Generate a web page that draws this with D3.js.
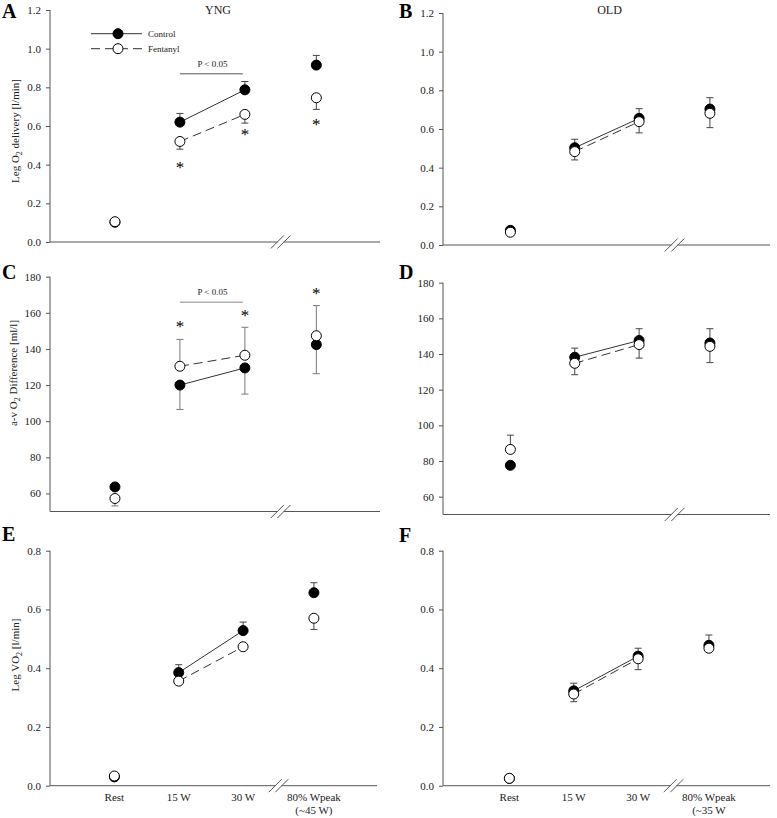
<!DOCTYPE html>
<html><head><meta charset="utf-8">
<script src="https://cdn.jsdelivr.net/npm/d3@7"></script>
<style>
html,body{margin:0;padding:0;background:#fff;}
text{font-family:"Liberation Serif","Times New Roman",serif;}
</style></head>
<body>
<svg id="chart" width="777" height="818"></svg>
<script>
// ---------- DATA ----------
const categories = ["Rest", "15 W", "30 W", "80% Wpeak"];
const xSubLabelsYNG = ["", "", "", "(~45 W)"];
const xSubLabelsOLD = ["", "", "", "(~35 W"];
const seriesNames = ["Control", "Fentanyl"];

// A: YNG leg O2 delivery [l/min]
const A_control = [0.102, 0.62, 0.787, 0.915];
const A_controlErr = [null, 0.665, 0.83, 0.965];
const A_fentanyl = [0.105, 0.52, 0.66, 0.746];
const A_fentanylErr = [null, 0.48, 0.615, 0.686];
// B: OLD leg O2 delivery
const B_control = [0.076, 0.503, 0.655, 0.703];
const B_controlErr = [null, 0.547, 0.705, 0.762];
const B_fentanyl = [0.066, 0.483, 0.638, 0.681];
const B_fentanylErr = [null, 0.44, 0.58, 0.607];
// C: YNG a-v O2 difference [ml/l]
const C_control = [63.6, 120, 129.5, 142.4];
const C_controlErr = [null, 106.5, 115, 126.3];
const C_fentanyl = [57.2, 130.4, 136.5, 147.3];
const C_fentanylErr = [53.1, 145.3, 152, 164];
// D: OLD a-v O2 difference
const D_control = [77.6, 138.2, 147.6, 146.2];
const D_controlErr = [null, 143.3, 154.2, 154.2];
const D_fentanyl = [86.5, 134.8, 145.3, 144.3];
const D_fentanylErr = [94.5, 128.4, 137.7, 135.2];
// E: YNG leg VO2 [l/min]
const E_control = [0.03, 0.385, 0.528, 0.657];
const E_controlErr = [null, 0.412, 0.557, 0.691];
const E_fentanyl = [0.033, 0.356, 0.473, 0.570];
const E_fentanylErr = [null, null, null, 0.532];
// F: OLD leg VO2
const F_control = [0.025, 0.323, 0.441, 0.478];
const F_controlErr = [null, 0.349, 0.468, 0.513];
const F_fentanyl = [0.025, 0.312, 0.432, 0.468];
const F_fentanylErr = [null, 0.286, 0.395, null];

// significance marks
const A_asterisks = [[1, 0.40], [2, 0.57], [3, 0.62]];   // [category index, value]
const C_asterisks = [[1, 153.7], [2, 159.8], [3, 172]];
const A_bracket = [1, 2, 0.87];   // from cat, to cat, value
const C_bracket = [1, 2, 165.9];

const ticksO2 = [0, 0.2, 0.4, 0.6, 0.8, 1.0, 1.2];
const ticksAV = [60, 80, 100, 120, 140, 160, 180];
const ticksVO2 = [0, 0.2, 0.4, 0.6, 0.8];

// ---------- LAYOUT ----------
const svg = d3.select("#chart");
const catPos = [1, 2, 3, 4.1];  // category positions on a continuous axis
const breakPos = 3.55;
const axisColor = "#555";

const panels = [
  {id:"A", left:50, right:380, top:10, bottom:242, xoff:0, dom:[0,1.2], ticks:ticksO2, fmt:".1f",
   ctrl:A_control, ctrlErr:A_controlErr, fent:A_fentanyl, fentErr:A_fentanylErr,
   title:"YNG", ylab:["Leg O","2"," delivery [l/min]"], ast:A_asterisks, br:A_bracket, legend:true},
  {id:"B", left:443, right:770, top:13, bottom:245, xoff:3, dom:[0,1.2], ticks:ticksO2, fmt:".1f",
   ctrl:B_control, ctrlErr:B_controlErr, fent:B_fentanyl, fentErr:B_fentanylErr, title:"OLD"},
  {id:"C", left:50, right:380, top:276.7, bottom:511.5, xoff:0, dom:[50,180], ticks:ticksAV, fmt:"d",
   ctrl:C_control, ctrlErr:C_controlErr, fent:C_fentanyl, fentErr:C_fentanylErr,
   ylab:["a-v O","2"," Difference [ml/l]"], ast:C_asterisks, br:C_bracket, brColor:"#888", errColor:"#777"},
  {id:"D", left:443, right:770, top:282.7, bottom:514.5, xoff:3, dom:[50,180], ticks:ticksAV, fmt:"d",
   ctrl:D_control, ctrlErr:D_controlErr, fent:D_fentanyl, fentErr:D_fentanylErr},
  {id:"E", left:50, right:377, top:550.7, bottom:785.7, xoff:0, dom:[0,0.8], ticks:ticksVO2, fmt:".1f",
   ctrl:E_control, ctrlErr:E_controlErr, fent:E_fentanyl, fentErr:E_fentanylErr,
   ylab:["Leg VO","2"," [l/min]"], xlabels:true, sub:xSubLabelsYNG},
  {id:"F", left:443, right:770, top:550.7, bottom:785.7, xoff:2, dom:[0,0.8], ticks:ticksVO2, fmt:".1f",
   ctrl:F_control, ctrlErr:F_controlErr, fent:F_fentanyl, fentErr:F_fentanylErr, xlabels:true, sub:xSubLabelsOLD}
];

const letterPos = {A:[2,18], B:[399,18], C:[2,279], D:[399,279], E:[2,541], F:[399,542]};
const ylabX = {A:15, C:13, E:15};
const ylabY = {A:131, C:373, E:655};

panels.forEach(p => {
  const g = svg.append("g");
  const x = d3.scaleLinear().domain([0, 5.08]).range([p.left + p.xoff, p.right + p.xoff]);
  const y = d3.scaleLinear().domain(p.dom).range([p.bottom, p.top]);
  const xc = i => x(catPos[i]);

  // y axis
  const yAxis = d3.axisLeft(y).tickValues(p.ticks).tickFormat(d3.format(p.fmt)).tickSizeOuter(0).tickSize(4).tickPadding(5);
  const ya = g.append("g").attr("transform", `translate(${p.left},0)`).call(yAxis);
  ya.attr("font-family", null);
  ya.select(".domain").attr("stroke", axisColor).attr("d", `M0,${p.top}V${p.bottom}`);
  ya.selectAll(".tick line").attr("stroke", axisColor);
  ya.selectAll(".tick text").attr("font-size", 11).attr("fill", "#222");

  // x axis with break
  const bx = x(breakPos);
  g.append("line").attr("x1", p.left).attr("x2", bx - 3).attr("y1", p.bottom).attr("y2", p.bottom).attr("stroke", axisColor).attr("stroke-width", 1);
  g.append("line").attr("x1", bx + 3).attr("x2", p.right).attr("y1", p.bottom).attr("y2", p.bottom).attr("stroke", axisColor).attr("stroke-width", 1);
  [-3.3, 3.3].forEach(o => {
    g.append("line").attr("x1", bx + o - 6.5).attr("y1", p.bottom + 6.5).attr("x2", bx + o + 6.5).attr("y2", p.bottom - 6.5)
      .attr("stroke", axisColor).attr("stroke-width", 1);
  });

  // x labels
  if (p.xlabels) {
    categories.forEach((c, i) => {
      g.append("text").attr("x", xc(i)).attr("y", p.bottom + 15).attr("text-anchor", "middle")
        .attr("font-size", 11).attr("fill", "#222").text(c);
      if (p.sub[i]) g.append("text").attr("x", xc(i)).attr("y", p.bottom + 28).attr("text-anchor", "middle")
        .attr("font-size", 11).attr("fill", "#222").text(p.sub[i]);
    });
  }

  // panel letter
  svg.append("text").attr("x", letterPos[p.id][0]).attr("y", letterPos[p.id][1]).attr("font-size", 20)
    .attr("font-weight", "bold").attr("fill", "#000").text(p.id);

  if (p.title) svg.append("text").attr("x", (p.left + p.right) / 2 + 3).attr("y", 14).attr("text-anchor", "middle")
    .attr("font-size", 12).attr("fill", "#222").text(p.title);

  if (p.ylab) {
    const t = svg.append("text").attr("transform", `translate(${ylabX[p.id]},${ylabY[p.id]}) rotate(-90)`)
      .attr("text-anchor", "middle").attr("font-size", 11).attr("fill", "#222").attr("dy", "0.35em");
    t.append("tspan").text(p.ylab[0]);
    t.append("tspan").attr("dy", 3).attr("font-size", 8).text(p.ylab[1]);
    t.append("tspan").attr("dy", -3).text(p.ylab[2]);
  }

  // connecting lines (15 W - 30 W)
  const line = d3.line().x(d => xc(d[0])).y(d => y(d[1]));
  const seg = arr => [[1, arr[1]], [2, arr[2]]];
  g.append("path").attr("d", line(seg(p.ctrl))).attr("stroke", "#333").attr("fill", "none").attr("stroke-width", 1);
  g.append("path").attr("d", line(seg(p.fent))).attr("stroke", "#333").attr("fill", "none").attr("stroke-width", 1)
    .attr("stroke-dasharray", "9,5");

  // error bars
  const ec = p.errColor || "#444";
  const drawErr = (vals, errs) => {
    errs.forEach((e, i) => {
      if (e == null) return;
      g.append("line").attr("x1", xc(i)).attr("x2", xc(i)).attr("y1", y(vals[i])).attr("y2", y(e)).attr("stroke", ec);
      g.append("line").attr("x1", xc(i) - 3.5).attr("x2", xc(i) + 3.5).attr("y1", y(e)).attr("y2", y(e)).attr("stroke", ec);
    });
  };
  drawErr(p.ctrl, p.ctrlErr);
  drawErr(p.fent, p.fentErr);

  // points
  g.selectAll(".ctrl").data(p.ctrl).enter().append("circle")
    .attr("cx", (d, i) => xc(i)).attr("cy", d => y(d)).attr("r", 5).attr("fill", "#000").attr("stroke", "#000");
  g.selectAll(".fent").data(p.fent).enter().append("circle")
    .attr("cx", (d, i) => xc(i)).attr("cy", d => y(d)).attr("r", 5).attr("fill", "#fff").attr("stroke", "#000").attr("stroke-width", 1);

  // asterisks
  if (p.ast) p.ast.forEach(a => {
    g.append("text").attr("x", xc(a[0])).attr("y", y(a[1]) + 8).attr("text-anchor", "middle")
      .attr("font-size", 17).attr("fill", "#000").text("*");
  });

  // bracket
  if (p.br) {
    const bc = p.brColor || "#555";
    g.append("line").attr("x1", xc(p.br[0])).attr("x2", xc(p.br[1]) - 2).attr("y1", y(p.br[2])).attr("y2", y(p.br[2]))
      .attr("stroke", bc);
    g.append("text").attr("x", (xc(p.br[0]) + xc(p.br[1])) / 2).attr("y", y(p.br[2]) - 7).attr("text-anchor", "middle")
      .attr("font-size", 9).attr("fill", "#222").text("P < 0.05");
  }

  // legend
  if (p.legend) {
    const lg = svg.append("g");
    const ly = [33.7, 48.7];
    lg.append("line").attr("x1", 91).attr("x2", 142).attr("y1", ly[0]).attr("y2", ly[0]).attr("stroke", "#333");
    lg.append("line").attr("x1", 91).attr("x2", 142).attr("y1", ly[1]).attr("y2", ly[1]).attr("stroke", "#333").attr("stroke-dasharray", "9,5");
    lg.append("circle").attr("cx", 118).attr("cy", ly[0]).attr("r", 5).attr("fill", "#000").attr("stroke", "#000");
    lg.append("circle").attr("cx", 118).attr("cy", ly[1]).attr("r", 5).attr("fill", "#fff").attr("stroke", "#000");
    seriesNames.forEach((s, i) => {
      lg.append("text").attr("x", 148).attr("y", ly[i] + 3).attr("font-size", 9).attr("fill", "#222").text(s);
    });
  }
});
</script>
</body></html>
